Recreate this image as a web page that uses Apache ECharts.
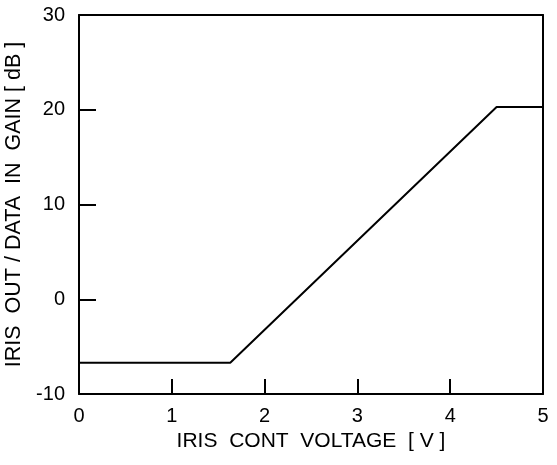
<!DOCTYPE html>
<html>
<head>
<meta charset="utf-8">
<script src="https://cdn.jsdelivr.net/npm/echarts@6/dist/echarts.min.js"></script>
<style>html,body{margin:0;padding:0;background:#fff;}#c{width:557px;height:465px;}</style>
</head>
<body>
<div id="c"></div>
<script>
const xValues = [0, 1.63, 4.5, 5];
const gainValues = [-6.7, -6.7, 20.3, 20.3];
const xTickLabels = ['0', '1', '2', '3', '4', '5'];
const yTickLabels = ['-10', '0', '10', '20', '30'];

const chart = echarts.init(document.getElementById('c'));
const font = 'Liberation Sans, Arial, sans-serif';
const frameAxis = (pos, min, max) => ({
  type: 'value', min: min, max: max, position: pos,
  axisLine: { show: true, onZero: false, lineStyle: { color: '#000', width: 2 } },
  axisTick: { show: false }, axisLabel: { show: false }, splitLine: { show: false }
});
chart.setOption({
  animation: false,
  grid: { left: 79, right: 14, top: 15, bottom: 71, show: false, containLabel: false, outerBoundsMode: 'none' },
  xAxis: [{
    type: 'value', min: 0, max: 5, interval: 1, position: 'bottom',
    name: 'IRIS  CONT  VOLTAGE  [ V ]', nameLocation: 'middle', nameGap: 31,
    nameTextStyle: { color: '#000', fontSize: 21, fontFamily: font },
    axisLine: { onZero: false, lineStyle: { color: '#000', width: 2 } },
    axisTick: { inside: true, length: 15, lineStyle: { color: '#000', width: 2 } },
    axisLabel: { color: '#000', fontSize: 20, fontFamily: font, margin: 12,
      formatter: v => xTickLabels[Math.round(v)] },
    splitLine: { show: false }
  }, frameAxis('top', 0, 5)],
  yAxis: [{
    type: 'value', min: -10, max: 30, interval: 10, position: 'left',
    name: 'IRIS  OUT / DATA  IN  GAIN [ dB ]', nameLocation: 'middle', nameGap: 48,
    nameTextStyle: { color: '#000', fontSize: 21.5, fontFamily: font },
    axisLine: { onZero: false, lineStyle: { color: '#000', width: 2 } },
    axisTick: { inside: true, length: 17, lineStyle: { color: '#000', width: 2 } },
    axisLabel: { color: '#000', fontSize: 20, fontFamily: font, margin: 14,
      formatter: v => yTickLabels[Math.round((v + 10) / 10)] },
    splitLine: { show: false }
  }, frameAxis('right', -10, 30)],
  series: [
    {
      type: 'line', xAxisIndex: 0, yAxisIndex: 0,
      data: xValues.map((x, i) => [x, gainValues[i]]),
      symbol: 'none', lineStyle: { color: '#000', width: 2 }, clip: false
    }
  ]
});
</script>
</body>
</html>
